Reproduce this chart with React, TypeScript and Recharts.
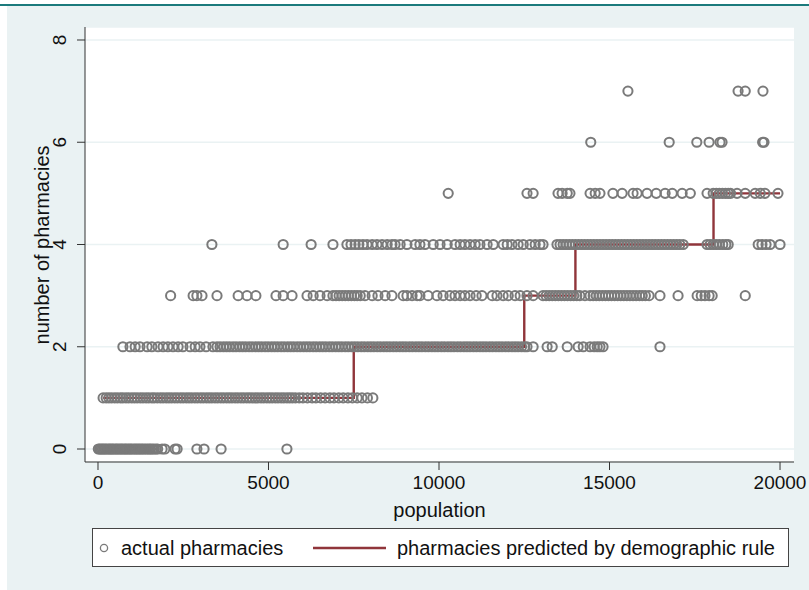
import { ComposedChart, Scatter, Line, XAxis, YAxis, CartesianGrid, Label } from 'recharts';

// actual pharmacies, population of each municipality grouped by observed count
const popWith0 = [
  10, 50, 90, 130, 170, 210, 250, 300, 340, 380, 420, 460, 510, 550, 590, 640, 680, 720, 770, 810,
  850, 900, 940, 980, 1030, 1080, 1120, 1170, 1210, 1260, 1300, 1350, 1400, 1450, 1500, 1540, 1590,
  1640, 1700, 1750, 1880, 1960, 2260, 2320, 2900, 3110, 3610, 5540,
];
const popWith1 = [
  150, 240, 320, 400, 490, 570, 660, 730, 820, 900, 990, 1070, 1150, 1240, 1320, 1410, 1490, 1580,
  1650, 1740, 1830, 1910, 2000, 2080, 2160, 2250, 2330, 2420, 2500, 2590, 2670, 2750, 2840, 2920,
  3010, 3090, 3180, 3260, 3340, 3430, 3510, 3600, 3680, 3770, 3850, 3930, 4020, 4100, 4190, 4270,
  4360, 4440, 4520, 4610, 4690, 4780, 4860, 4950, 5030, 5110, 5200, 5280, 5370, 5450, 5540, 5620,
  5700, 5790, 5900, 6010, 6140, 6280, 6390, 6530, 6660, 6800, 6920, 7060, 7190, 7330, 7460, 7600,
  7740, 7900, 8060,
];
const popWith2 = [
  730, 940, 1090, 1230, 1440, 1580, 1760, 1910, 2050, 2200, 2350, 2490, 2700, 2850, 2990, 3170, 3370,
  3490, 3580, 3680, 3770, 3860, 3960, 4050, 4150, 4240, 4330, 4430, 4520, 4620, 4710, 4800, 4900,
  4990, 5090, 5180, 5270, 5370, 5460, 5560, 5650, 5740, 5840, 5930, 6030, 6120, 6210, 6310, 6400,
  6500, 6590, 6680, 6780, 6870, 6970, 7060, 7150, 7250, 7340, 7440, 7530, 7620, 7720, 7810, 7910,
  8000, 8090, 8190, 8280, 8380, 8470, 8560, 8660, 8750, 8850, 8940, 9030, 9130, 9220, 9320, 9410,
  9500, 9600, 9690, 9790, 9880, 9970, 10070, 10160, 10260, 10350, 10440, 10540, 10630, 10730, 10820,
  10910, 11010, 11100, 11200, 11290, 11380, 11480, 11570, 11670, 11760, 11850, 11950, 12040, 12140,
  12230, 12320, 12420, 12510, 12580, 12760, 13170, 13320, 13760, 14080, 14230, 14430, 14550, 14640,
  14720, 14810, 16480,
];
const popWith3 = [
  2130, 2790, 2900, 3050, 3490, 4110, 4370, 4630, 5220, 5430, 5690, 6130, 6310, 6510, 6720, 6890,
  6980, 7070, 7160, 7250, 7340, 7430, 7520, 7600, 7690, 7830, 8040, 8210, 8420, 8620, 8950, 9060,
  9210, 9360, 9440, 9680, 9940, 10120, 10320, 10470, 10620, 10760, 10910, 11090, 11260, 11560, 11700,
  11880, 12030, 12230, 12380, 12580, 12760, 13050, 13140, 13230, 13320, 13410, 13500, 13590, 13680,
  13770, 13860, 13950, 14040, 14130, 14280, 14430, 14520, 14610, 14700, 14790, 14880, 14970, 15060,
  15150, 15240, 15330, 15420, 15510, 15600, 15690, 15780, 15880, 15960, 16050, 16160, 16480, 17010,
  17570, 17690, 17800, 17920, 18010, 18980,
];
const popWith4 = [
  3340, 5430, 6250, 6890, 7300, 7420, 7540, 7650, 7770, 7890, 8040, 8180, 8330, 8480, 8620, 8710,
  8860, 9060, 9300, 9440, 9590, 9830, 10030, 10240, 10470, 10620, 10760, 10910, 11060, 11200, 11410,
  11590, 11880, 12000, 12140, 12320, 12470, 12670, 12820, 12960, 13050, 13460, 13550, 13640, 13730,
  13820, 13910, 14000, 14090, 14180, 14270, 14360, 14450, 14540, 14630, 14720, 14810, 14900, 14990,
  15080, 15170, 15260, 15350, 15440, 15530, 15620, 15710, 15800, 15890, 15980, 16070, 16160, 16250,
  16340, 16430, 16520, 16610, 16700, 16790, 16880, 16970, 17060, 17160, 17860, 17950, 18040, 18130,
  18220, 18320, 18410, 18480, 19360, 19470, 19590, 19710, 20000,
];
const popWith5 = [
  10270, 12580, 12760, 13490, 13610, 13760, 13840, 14430, 14580, 14720, 15100, 15370, 15690, 15810,
  16100, 16370, 16630, 16840, 17130, 17370, 17860, 18040, 18130, 18220, 18310, 18400, 18480, 18550,
  18740, 18980, 19270, 19420, 19560, 19940,
];
const popWith6 = [14450, 16750, 17560, 17920, 18240, 18300, 19490, 19530];
const popWith7 = [15540, 18770, 18980, 19500];

// demographic rule: predicted count changes at these population thresholds
const rulePop = [150, 7500, 12500, 14000, 18050, 20000];
const rulePred = [1, 2, 3, 4, 5, 5];

const xTicks = [0, 5000, 10000, 15000, 20000];
const yTicks = [0, 2, 4, 6, 8];

const actual = [popWith0, popWith1, popWith2, popWith3, popWith4, popWith5, popWith6, popWith7]
  .flatMap((pops, n) => pops.map((pop) => ({ pop, n })));
const predicted = rulePop.map((pop, i) => ({ pop, n: rulePred[i] }));

const FONT = '"Liberation Sans", Arial, Helvetica, sans-serif';
const GRAY = '#7a7a7a';
const MAROON = '#90353b';
const BG = '#eaf2f3';

const HollowDot = (props: any) => {
  const { cx, cy } = props;
  if (cx == null || cy == null) return null;
  return <circle cx={cx} cy={cy} r={4.6} fill="none" stroke={GRAY} strokeWidth={2} />;
};

const XTick = ({ x, payload }: any) => (
  <text x={x} y={489} textAnchor="middle" fontSize={19} fontFamily={FONT} fill="#111">
    {payload.value}
  </text>
);

const YTick = ({ y, payload }: any) => (
  <text transform={`translate(66, ${y}) rotate(-90)`} textAnchor="middle" fontSize={19} fontFamily={FONT} fill="#111">
    {payload.value}
  </text>
);

export default function App() {
  return (
    <div style={{ position: 'absolute', left: 0, top: 0, width: 809, height: 590, background: '#fff', overflow: 'hidden' }}>
      <div style={{ position: 'absolute', left: 0, top: 4, width: 809, height: 2, background: '#1b7a7c' }} />
      <div style={{ position: 'absolute', left: 7, top: 6, width: 802, height: 584, background: BG }} />
      <div style={{ position: 'absolute', left: 0, top: 0 }}>
        <ComposedChart width={809} height={590} margin={{ top: 27, right: 15, bottom: 98, left: 25 }}>
          <CartesianGrid vertical={false} stroke={BG} strokeWidth={1.5} fill="#fff" />
          <XAxis
            type="number"
            dataKey="pop"
            domain={[-381, 20410]}
            allowDataOverflow
            ticks={xTicks}
            interval={0}
            height={30}
            tickSize={8}
            tick={<XTick />}
            stroke="#333"
            tickLine={{ stroke: '#333' }}
          >
            <Label
              content={() => (
                <text x={439.5} y={517} textAnchor="middle" fontSize={20} fontFamily={FONT} fill="#111">
                  population
                </text>
              )}
            />
          </XAxis>
          <YAxis
            type="number"
            dataKey="n"
            domain={[-0.254, 8.254]}
            allowDataOverflow
            ticks={yTicks}
            interval={0}
            width={60}
            tickSize={8}
            tick={<YTick />}
            stroke="#333"
            tickLine={{ stroke: '#333' }}
          >
            <Label
              content={() => (
                <text transform="translate(49, 245) rotate(-90)" textAnchor="middle" fontSize={20} fontFamily={FONT} fill="#111">
                  number of pharmacies
                </text>
              )}
            />
          </YAxis>
          <Scatter data={actual} shape={<HollowDot />} isAnimationActive={false} />
          <Line
            data={predicted}
            dataKey="n"
            type="stepAfter"
            stroke={MAROON}
            strokeWidth={2.4}
            dot={false}
            activeDot={false}
            isAnimationActive={false}
          />
        </ComposedChart>
      </div>
      <div
        style={{
          position: 'absolute', left: 92, top: 528, width: 695, height: 37, background: '#fff',
          border: '1px solid #444', fontFamily: FONT, fontSize: 20, color: '#111',
        }}
      >
        <svg width={695} height={37} style={{ position: 'absolute', left: 0, top: 0 }}>
          <circle cx={11} cy={19} r={3.6} fill="none" stroke={GRAY} strokeWidth={1.3} />
          <text x={28} y={26} fontSize={20} fontFamily={FONT} fill="#111">actual pharmacies</text>
          <line x1={220} x2={293} y1={19} y2={19} stroke={MAROON} strokeWidth={2.4} />
          <text x={304} y={26} fontSize={20} fontFamily={FONT} fill="#111">pharmacies predicted by demographic rule</text>
        </svg>
      </div>
    </div>
  );
}
